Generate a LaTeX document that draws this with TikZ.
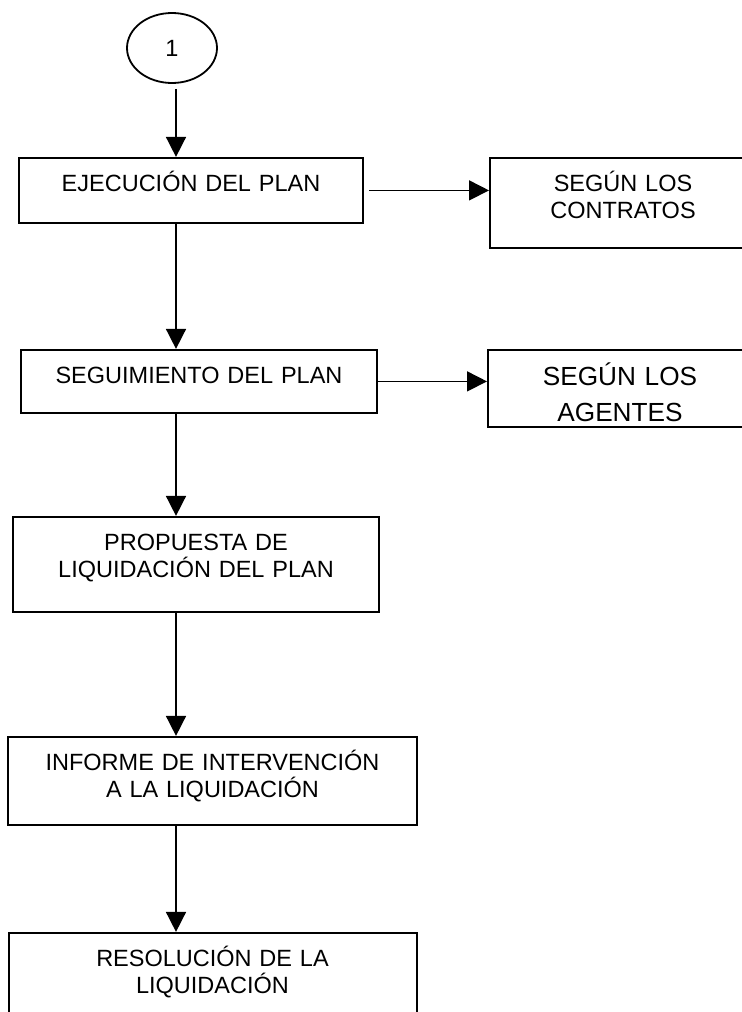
\documentclass[tikz,border=0pt]{standalone}
\usepackage{fontspec}
\setmainfont{Liberation Sans}
\usetikzlibrary{shapes.geometric, arrows.meta, positioning}
\newcommand{\boxfont}{\fontsize{11.75pt}{13.5pt}\selectfont}
\newcommand{\bigboxfont}{\fontsize{13.1pt}{18pt}\selectfont}
\tikzset{
  block/.style={
    rectangle, draw, line width=1pt, inner sep=0pt,
    align=center, text height=17pt, font=\boxfont},
  startcirc/.style={
    ellipse, draw, line width=0.9pt, inner sep=0pt,
    minimum width=45pt, minimum height=35pt, font=\boxfont},
  arr/.style={-{Triangle[length=10pt, width=10pt]}, line width=0.8pt},
}
\begin{document}
\begin{tikzpicture}
  \clip (0,0) rectangle (371pt,-506pt);
  \coordinate (spine) at (88pt,0);
  \node[startcirc] (one) at (86pt,-24pt) {1};
  \node[block, below=36.5pt of one, xshift=9.5pt,
        text width=172pt, text depth=15.5pt] (ejec) {EJECUCIÓN DEL PLAN};
  \node[block, right=62.5pt of ejec.north east, anchor=north west,
        text width=133pt, text depth=28pt] (contr) {SEGÚN LOS\\CONTRATOS};
  \node[block, below=62.5pt of ejec, xshift=4pt,
        text width=178pt, text depth=14.5pt] (segui) {SEGUIMIENTO DEL PLAN};
  \node[block, right=54.5pt of segui.north east, anchor=north west,
        text width=132pt, text height=18pt, text depth=20.5pt,
        font=\bigboxfont] (agent) {SEGÚN LOS\\AGENTES};
  \node[block, below=51pt of segui, xshift=-1.5pt,
        text width=183pt, text depth=30.5pt] (prop)
    {PROPUESTA DE\\LIQUIDACIÓN DEL PLAN};
  \node[block, below=61.5pt of prop, xshift=8.25pt,
        text width=204.5pt, text depth=27pt] (inf)
    {INFORME DE INTERVENCIÓN\\A LA LIQUIDACIÓN};
  \node[block, below=53pt of inf,
        text width=204pt, text depth=38pt] (res)
    {RESOLUCIÓN DE LA\\LIQUIDACIÓN};
  \draw[arr, shorten <=2.5pt] (one.south -| spine) -- (ejec.north -| spine);
  \draw[arr, shorten <=2.5pt] (ejec.east) -- (ejec.east -| contr.west);
  \draw[arr] (ejec.south -| spine) -- (segui.north -| spine);
  \draw[arr] (segui.east) -- (segui.east -| agent.west);
  \draw[arr] (segui.south -| spine) -- (prop.north -| spine);
  \draw[arr] (prop.south -| spine) -- (inf.north -| spine);
  \draw[arr] (inf.south -| spine) -- (res.north -| spine);
\end{tikzpicture}
\end{document}
